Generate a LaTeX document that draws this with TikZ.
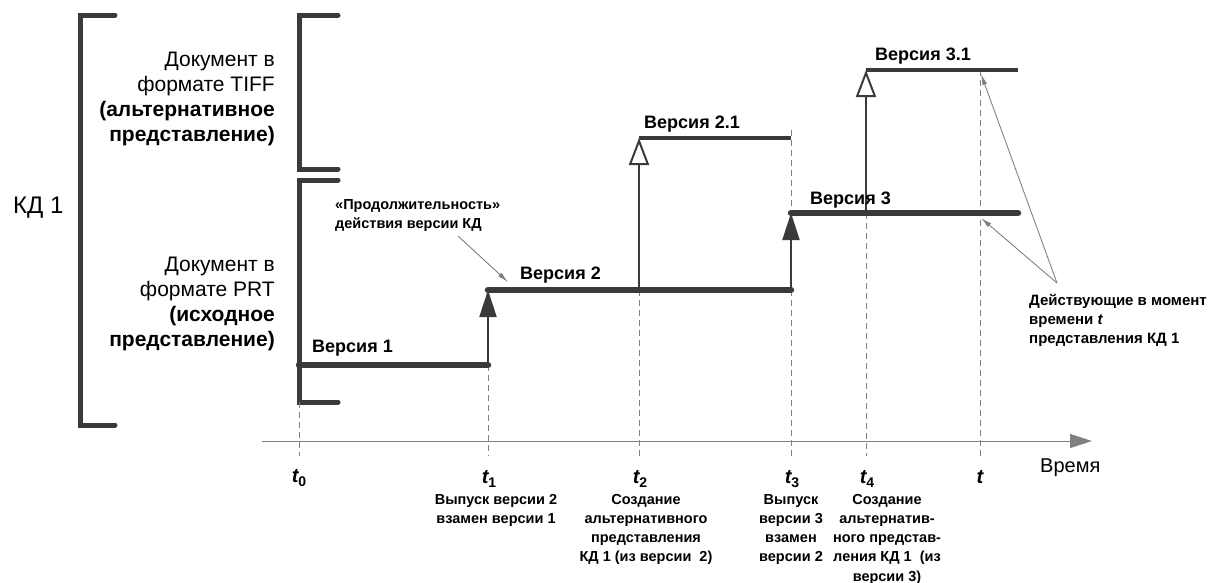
\documentclass[tikz,border=0pt]{standalone}
\usepackage{fontspec}
\setmainfont{Liberation Sans}
\usetikzlibrary{arrows.meta}

\definecolor{ink}{HTML}{3A3A3A}
\definecolor{axisgray}{HTML}{808080}

% moment of time: italic t with a small upright index
\newcommand{\tmom}[1]{{\itshape t}\raisebox{-0.45ex}{\fontsize{14}{14}\selectfont #1}}

\tikzset{
  bracket/.style={ink, line width=5pt, line cap=round},
  verline/.style={ink, line width=6.5pt, line cap=round},
  altline/.style={ink, line width=3.5pt},
  release/.style={ink, line width=2pt, -{Triangle[length=27pt,width=17pt]}},
  altarrow/.style={ink, line width=2pt, -{Triangle[open,length=27pt,width=20pt,fill=white]}},
  tmark/.style={axisgray, line width=0.8pt, dash pattern=on 6pt off 4pt},
  pointer/.style={axisgray, line width=0.9pt, -{Latex[length=11pt,width=5pt]}},
  vlabel/.style={font=\bfseries\fontsize{18}{18}\selectfont, anchor=base west, inner sep=0pt},
  doclabel/.style={font=\fontsize{21}{25}\selectfont, align=right, anchor=north east, inner sep=0pt},
  note/.style={font=\bfseries\fontsize{14.5}{19.2}\selectfont, align=center, anchor=north, inner sep=0pt},
  tlabel/.style={font=\bfseries\fontsize{20}{20}\selectfont, anchor=base, inner sep=0pt},
}

\begin{document}
\begin{tikzpicture}[x=1pt, y=-1pt]
  \useasboundingbox (0,0) rectangle (1208,582);

  % brackets of the document and of its two representations
  \draw[bracket] (115,15) -- (80,15) -- (80,425) -- (115,425);
  \draw[bracket] (338,15) -- (299,15) -- (299,169) -- (338,169);
  \draw[bracket] (338,180) -- (299,180) -- (299,402) -- (338,402);

  \node (kd) [font=\fontsize{24}{24}\selectfont, anchor=base west, inner sep=0pt] at (13,213) {КД 1};
  \node (tiff) [doclabel] at (275,52) {Документ в\\формате TIFF\\\textbf{(альтернативное}\\\textbf{представление)}};
  \node (prt) [doclabel] at (275,257) {Документ в\\формате PRT\\\textbf{(исходное}\\\textbf{представление)}};

  % moments of time
  \coordinate (v1s) at (299,365);
  \coordinate (v1e) at (488,365);
  \coordinate (v2s) at (488,290);
  \coordinate (v2b) at (639,290);
  \coordinate (v2e) at (791,290);
  \coordinate (v21s) at (639,138);
  \coordinate (v21e) at (791,138);
  \coordinate (v3s) at (791,213);
  \coordinate (v3b) at (866,213);
  \coordinate (v3e) at (1018,213);
  \coordinate (v31s) at (866,70);
  \coordinate (v31e) at (1018,70);

  % axis
  \coordinate (ax0) at (262,441);
  \coordinate (ax1) at (1092,441);
  \draw[axisgray, line width=1pt, -{Triangle[length=22pt,width=14pt]}] (ax0) -- (ax1);
  \node (time) [font=\fontsize{20}{20}\selectfont, anchor=base west, inner sep=0pt] at (1040,472) {Время};

  % dashed marks of the moments
  \draw[tmark] (299,402) -- (299,456);
  \draw[tmark] (v1e) -- (488,456);
  \draw[tmark] (v2b) -- (639,456);
  \draw[tmark] (791,130) -- (791,456);
  \draw[tmark] (v3b) -- (866,456);
  \draw[tmark] (980,70) -- (980,456);

  \node (t0) [tlabel] at (299,482) {\tmom{0}};
  \node (t1) [tlabel] at (489,483) {\tmom{1}};
  \node (t2) [tlabel] at (640,483) {\tmom{2}};
  \node (t3) [tlabel] at (792,483) {\tmom{3}};
  \node (t4) [tlabel] at (867,483) {\tmom{4}};
  \node (t) [tlabel] at (980,483) {\itshape t};

  % versions
  \draw[release] (v1e) -- (v2s);
  \draw[altarrow] (v2b) -- (v21s);
  \draw[release] (v2e) -- (v3s);
  \draw[altarrow] (v3b) -- (v31s);
  \draw[verline] (v1s) -- (v1e);
  \draw[verline] (v2s) -- (v2e);
  \draw[verline] (v3s) -- (v3e);
  \draw[altline] (v21s) -- (v21e);
  \draw[altline] (v31s) -- (v31e);

  \node (ver1) [vlabel] at (312,352) {Версия 1};
  \node (ver2) [vlabel] at (520,279) {Версия 2};
  \node (ver21) [vlabel] at (644,128) {Версия 2.1};
  \node (ver3) [vlabel] at (810,204) {Версия 3};
  \node (ver31) [vlabel] at (875,60) {Версия 3.1};

  % notes under the axis
  \node (n1) [note] at (496,494) {Выпуск версии 2\\взамен версии 1};
  \node (n2) [note] at (646,494) {Создание\\альтернативного\\представления\\КД 1 (из версии~~2)};
  \node (n3) [note] at (791,494) {Выпуск\\версии 3\\взамен\\версии 2};
  \node (n4) [note] at (887,494) {Создание\\альтернатив-\\ного представ-\\ления КД 1~~(из\\версии 3)};

  % pointers
  \node (dur) [font=\bfseries\fontsize{14.5}{19}\selectfont, align=left, anchor=north west, inner sep=0pt] at (335,199) {«Продолжительность»\\действия версии КД};
  \coordinate (durp) at (458,236);
  \coordinate (durq) at (508,282);
  \draw[pointer] (durp) -- (durq);

  \node (act) [font=\bfseries\fontsize{15}{19}\selectfont, align=left, anchor=north west, inner sep=0pt] at (1029,294) {Действующие в момент\\времени \textit{t}\\представления КД 1};
  \coordinate (actp) at (1057,283);
  \coordinate (act3) at (981,218);
  \coordinate (act31) at (981,74);
  \draw[pointer] (actp) -- (act3);
  \draw[pointer] (actp) -- (act31);
\end{tikzpicture}
\end{document}
